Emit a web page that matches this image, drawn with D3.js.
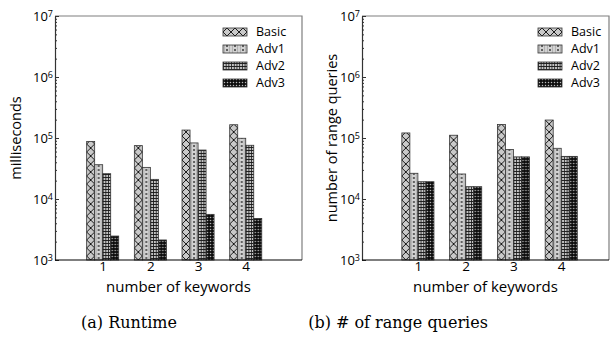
<!DOCTYPE html>
<html>
<head>
<meta charset="utf-8">
<script src="https://cdn.jsdelivr.net/npm/d3@7"></script>
<style>
  body { margin: 0; background: #fff; }
  svg { display: block; }
  .tick text { font-family: "Open Sans", sans-serif; }
</style>
</head>
<body>
<div id="chart"></div>
<script>
// data
const keywords = [1, 2, 3, 4];
const seriesNames = ["Basic", "Adv1", "Adv2", "Adv3"];

const runtimeBasic = [88000, 75000, 135000, 165000];
const runtimeAdv1  = [36500, 33000, 83000, 99000];
const runtimeAdv2  = [26000, 21000, 63500, 76000];
const runtimeAdv3  = [2470, 2130, 5600, 4800];

const queriesBasic = [121000, 111000, 167000, 197000];
const queriesAdv1  = [26400, 25700, 65000, 67800];
const queriesAdv2  = [19200, 15900, 49000, 50000];
const queriesAdv3  = [19200, 15900, 49000, 50000];

const yTickValues = [1e3, 1e4, 1e5, 1e6, 1e7];
const yTickExp = ["3", "4", "5", "6", "7"];

const width = 614, height = 341;
const svg = d3.select("#chart").append("svg")
    .attr("width", width)
    .attr("height", height);
const defs = svg.append("defs");

// one pattern per bar so the hatching lines up with each bar's left edge
let patId = 0;
function makePattern(kind, x0) {
    const id = "p" + (patId++);
    let p;
    if (kind === 0) {
        p = defs.append("pattern").attr("id", id).attr("patternUnits", "userSpaceOnUse")
            .attr("x", x0).attr("y", 0).attr("width", 8).attr("height", 8);
        p.append("rect").attr("width", 8).attr("height", 8).attr("fill", "#c9c9c9");
        p.append("path").attr("d", "M0,0L8,8M8,0L0,8").attr("stroke", "#1a1a1a").attr("stroke-width", 1);
    } else if (kind === 1) {
        p = defs.append("pattern").attr("id", id).attr("patternUnits", "userSpaceOnUse")
            .attr("x", x0).attr("y", 0).attr("width", 8).attr("height", 4);
        p.append("rect").attr("width", 8).attr("height", 4).attr("fill", "#d2d2d2");
        p.append("rect").attr("x", 3.2).attr("y", 1.2).attr("width", 1.6).attr("height", 1.6).attr("fill", "#222");
        p.append("rect").attr("x", 1).attr("y", 0).attr("width", 0.8).attr("height", 4).attr("fill", "#aaa");
        p.append("rect").attr("x", 6.2).attr("y", 0).attr("width", 0.8).attr("height", 4).attr("fill", "#aaa");
    } else if (kind === 2) {
        p = defs.append("pattern").attr("id", id).attr("patternUnits", "userSpaceOnUse")
            .attr("x", x0).attr("y", 0).attr("width", 2.7).attr("height", 3);
        p.append("rect").attr("width", 2.7).attr("height", 3).attr("fill", "#c4c4c4");
        p.append("path").attr("d", "M0.4,0V3M0,0.5H2.7").attr("stroke", "#1a1a1a").attr("stroke-width", 0.9);
    } else {
        p = defs.append("pattern").attr("id", id).attr("patternUnits", "userSpaceOnUse")
            .attr("x", x0).attr("y", 0).attr("width", 3).attr("height", 3);
        p.append("rect").attr("width", 3).attr("height", 3).attr("fill", "#0d0d0d");
        p.append("circle").attr("cx", 1.5).attr("cy", 1.5).attr("r", 0.75).attr("fill", "#bbb");
    }
    return "url(#" + id + ")";
}

function drawPanel(opts) {
    const { left, right, xDomain, series, yLabel, yLabelX, legendRight, caption, captionX } = opts;
    const top = 16, bottom = 260;

    const x = d3.scaleLinear().domain(xDomain).range([left, right]);
    const y = d3.scaleLog().domain([1e3, 1e7]).range([bottom, top]);
    const barW = x(0.168) - x(0);

    const g = svg.append("g");

    // top and right frame in grey
    g.append("path")
        .attr("d", `M${left},${top}H${right}V${bottom}`)
        .attr("fill", "none").attr("stroke", "#7f7f7f").attr("stroke-width", 1.2);

    // bars
    series.forEach((vals, si) => {
        vals.forEach((v, i) => {
            const bx = x(keywords[i]) - 2 * barW + si * barW;
            g.append("rect")
                .attr("x", bx)
                .attr("y", y(v))
                .attr("width", barW)
                .attr("height", bottom - y(v))
                .attr("fill", makePattern(si, bx))
                .attr("stroke", "#333")
                .attr("stroke-width", 0.8);
        });
    });

    // y axis with log minor ticks pointing inward
    const minor = [];
    for (let e = 3; e < 7; e++) for (let m = 2; m < 10; m++) minor.push(m * Math.pow(10, e));
    g.append("g")
        .attr("transform", `translate(${left},0)`)
        .call(d3.axisRight(y).tickValues(minor).tickSize(2).tickFormat(""))
        .call(a => a.select(".domain").remove())
        .call(a => a.selectAll("line").attr("stroke", "#333"));
    const yAxis = g.append("g")
        .attr("transform", `translate(${left},0)`)
        .call(d3.axisLeft(y).tickValues(yTickValues).tickSizeInner(-4).tickSizeOuter(0).tickFormat(""));
    yAxis.select(".domain").attr("stroke", "#333").attr("stroke-width", 1.2);
    yAxis.selectAll(".tick line").attr("stroke", "#333");
    yAxis.selectAll(".tick").each(function(d, i) {
        const t = d3.select(this).append("text")
            .attr("x", -2).attr("dy", "0.35em")
            .attr("text-anchor", "end")
            .attr("fill", "#000")
            .style("font-family", "'Open Sans', sans-serif")
            .style("font-size", "13px");
        t.append("tspan").text("10");
        t.append("tspan").attr("dy", "-0.45em").style("font-size", "9px").text(yTickExp[i]);
    });

    // x axis
    const xAxis = g.append("g")
        .attr("transform", `translate(0,${bottom})`)
        .call(d3.axisBottom(x).tickValues(keywords).tickSize(0).tickPadding(1).tickFormat(d3.format("d")));
    xAxis.select(".domain").attr("d", `M${left},0H${right}`).attr("stroke", "#000").attr("stroke-width", 1.2);
    xAxis.selectAll(".tick text").style("font-size", "13.5px").attr("fill", "#000");

    // axis labels
    g.append("text")
        .attr("x", (left + right) / 2).attr("y", 292)
        .attr("text-anchor", "middle")
        .style("font-family", "'Open Sans', sans-serif").style("font-size", "15px")
        .text("number of keywords");
    g.append("text")
        .attr("transform", `translate(${yLabelX},${(top + bottom) / 2}) rotate(-90)`)
        .attr("text-anchor", "middle")
        .style("font-family", "'Open Sans', sans-serif").style("font-size", "14.5px")
        .text(yLabel);

    // legend
    seriesNames.forEach((name, i) => {
        const ly = 32 + i * 17;
        const px = right - legendRight;
        g.append("rect")
            .attr("x", px).attr("y", ly - 4)
            .attr("width", 24).attr("height", 8)
            .attr("fill", makePattern(i, px))
            .attr("stroke", "#333").attr("stroke-width", 0.8);
        g.append("text")
            .attr("x", px + 33).attr("y", ly).attr("dy", "0.35em")
            .style("font-family", "'Open Sans', sans-serif").style("font-size", "12.5px")
            .text(name);
    });

    // caption
    svg.append("text")
        .attr("x", captionX).attr("y", 328)
        .attr("text-anchor", "middle")
        .style("font-family", "'DejaVu Serif', serif").style("font-size", "16px")
        .text(caption);
}

drawPanel({
    left: 55, right: 302, xDomain: [0, 5.18],
    series: [runtimeBasic, runtimeAdv1, runtimeAdv2, runtimeAdv3],
    yLabel: "milliseconds", yLabelX: 21, legendRight: 79,
    caption: "(a) Runtime", captionX: 129
});
drawPanel({
    left: 362, right: 609, xDomain: [-0.17, 5.0],
    series: [queriesBasic, queriesAdv1, queriesAdv2, queriesAdv3],
    yLabel: "number of range queries", yLabelX: 337, legendRight: 71,
    caption: "(b) # of range queries", captionX: 398
});
</script>
</body>
</html>
